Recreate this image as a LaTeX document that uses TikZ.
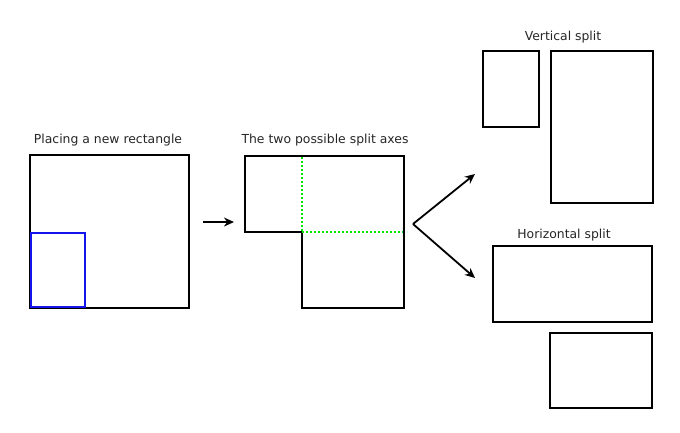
\documentclass[tikz,border=0pt]{standalone}
\usepackage{fontspec}
\setmainfont{DejaVu Sans}
\usetikzlibrary{arrows.meta}
\definecolor{newblue}{RGB}{20,20,235}
\definecolor{axisgreen}{RGB}{0,230,0}
\begin{document}
\begin{tikzpicture}[x=1pt,y=-1pt,
  box/.style={draw=black,line width=2.2pt},
  newbox/.style={draw=newblue,line width=2.2pt},
  axis/.style={draw=axisgreen,line width=2pt,dash pattern=on 2pt off 2pt},
  arr/.style={line width=1.8pt,-{Stealth[length=10pt,width=9pt]}},
  lbl/.style={font=\fontsize{12.4}{14}\selectfont,text=black!85,inner sep=0pt}]
\useasboundingbox (0,0) rectangle (680,432);
% step 1
\node[lbl] (l1) at (108,140) {Placing a new rectangle};
\draw[box] (30,155) rectangle (189,308);
\draw[newbox] (31,233) rectangle (85,307);
% arrow 1
\coordinate (a1s) at (203,222);
\coordinate (a1e) at (234,222);
\draw[arr] (a1s) -- (a1e);
% step 2
\node[lbl] (l2) at (325,140) {The two possible split axes};
\draw[box] (245,156) -- (404,156) -- (404,308) -- (302,308) -- (302,232) -- (245,232) -- cycle;
\coordinate (c) at (302,232);
\draw[axis] (302,157) -- (c);
\draw[axis] (c) -- (403,232);
% fork
\coordinate (v) at (413,224);
\coordinate (tu) at (475,174);
\coordinate (td) at (475,278);
\draw[arr] (v) -- (tu);
\draw[arr] (v) -- (td);
% vertical split
\node[lbl] (l3) at (563,37) {Vertical split};
\draw[box] (483,51) rectangle (539,127);
\draw[box] (551,51) rectangle (653,203);
% horizontal split
\node[lbl] (l4) at (564,235) {Horizontal split};
\draw[box] (493,246) rectangle (652,322);
\draw[box] (550,333) rectangle (652,408);
\end{tikzpicture}
\end{document}
